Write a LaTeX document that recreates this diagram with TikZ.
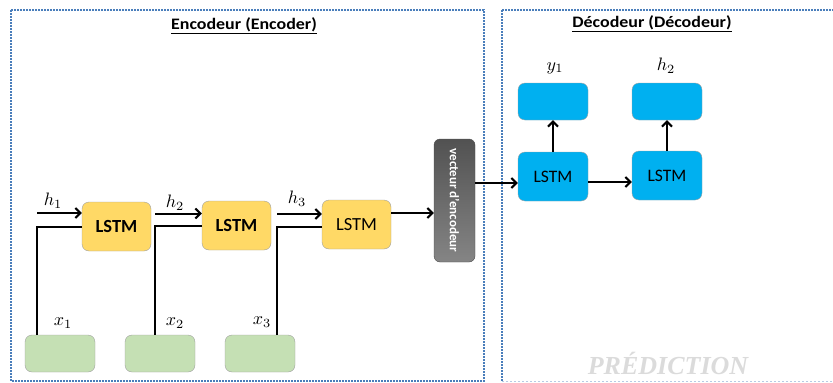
\documentclass[tikz,border=0pt]{standalone}
\usepackage{fontspec}
\setmainfont{Carlito}
\newfontfamily\wmfont{Liberation Serif}
\usetikzlibrary{arrows.meta,calc}
\definecolor{encyel}{HTML}{FFD966}
\definecolor{ingreen}{HTML}{C5E0B4}
\definecolor{decblue}{HTML}{00B0F0}
\definecolor{framebl}{HTML}{4A7EBB}
\definecolor{bordgr}{HTML}{A0A0A0}
\newcommand{\mlab}[1]{\scalebox{1.8}{$#1$}}
\begin{document}
\begin{tikzpicture}[x=1pt,y=-1pt,
  frame/.style={draw=framebl,line width=1.6pt,dash pattern=on 1.6pt off 1.4pt},
  encbox/.style={draw=bordgr,fill=encyel,rounded corners=7pt,minimum width=69pt,minimum height=49pt,inner sep=0pt,font=\fontsize{18.5}{21}\selectfont},
  inbox/.style={draw=bordgr,fill=ingreen,rounded corners=7pt,minimum width=70pt,minimum height=37pt,inner sep=0pt},
  decbox/.style={draw=bordgr,fill=decblue,rounded corners=7pt,minimum width=70pt,minimum height=49pt,inner sep=0pt,font=\fontsize{17.5}{20}\selectfont},
  outbox/.style={draw=bordgr,fill=decblue,rounded corners=7pt,minimum width=70pt,minimum height=37pt,inner sep=0pt},
  wire/.style={draw=black,line width=2pt},
  arr/.style={wire,-{Straight Barb[length=5pt,width=10pt,line width=2pt]}},
  lab/.style={inner sep=0pt},
  ttl/.style={font=\fontsize{16}{19}\selectfont\bfseries,inner sep=0pt}
]
\useasboundingbox (0,0) rectangle (833,383);
\begin{scope}
\clip (0,0) rectangle (833,383);
\draw[frame] (11,10) rectangle (484,381);
\draw[frame] (502,10) -- (840,10);
\draw[frame] (502,10) -- (502,381);
\draw[draw=framebl!40,line width=0.8pt,dash pattern=on 2pt off 2pt] (502,381) -- (840,381);
\end{scope}

\node[ttl] (t1) at (244,26) {\scalebox{1.12}[1]{\underline{Encodeur (Encoder)}}};
\node[ttl] (t2) at (652,24) {\scalebox{1.12}[1]{\underline{Décodeur (Décodeur)}}};

% encoder
\node[encbox] (e1) at (116.5,226.5) {\bfseries LSTM};
\node[encbox] (e2) at (236.5,225.5) {\bfseries LSTM};
\node[encbox] (e3) at (356.5,224.5) {LSTM};

\node[inbox] (x1) at (60,353.5) {};
\node[inbox] (x2) at (160,353.5) {};
\node[inbox] (x3) at (260,353.5) {};

\node[lab] (lx1) at (63,323) {\mlab{x_1}};
\node[lab] (lx2) at (175,323) {\mlab{x_2}};
\node[lab] (lx3) at (262,322) {\mlab{x_3}};

\node[lab] (lh1) at (53,201) {\mlab{h_1}};
\node[lab] (lh2) at (175,203) {\mlab{h_2}};
\node[lab] (lh3) at (297,199) {\mlab{h_3}};

\coordinate (h1s) at (37,213);
\coordinate (h2s) at (155,213.5);
\coordinate (h3s) at (277,214);
\draw[arr] (h1s) -- (h1s -| e1.west);
\draw[arr] (h2s) -- (h2s -| e2.west);
\draw[arr] (h3s) -- (h3s -| e3.west);

\coordinate (c1) at (37,227);
\coordinate (c2) at (155,226);
\coordinate (c3) at (277,226.5);
\draw[wire] (x1.north -| c1) |- (c1 -| e1.west);
\draw[wire] (x2.north -| c2) |- (c2 -| e2.west);
\draw[wire] (x3.north -| c3) |- (c3 -| e3.west);

% encoder vector
\node[draw=black!70,top color=black!68,bottom color=black!48,rounded corners=6pt,minimum width=41pt,minimum height=123pt,inner sep=0pt] (vec) at (454.5,200.5) {};
\node[rotate=-90,text=white,font=\fontsize{13}{15}\selectfont\bfseries,inner sep=0pt] (vect) at (vec.center) {vecteur d'encodeur};

\coordinate (v1) at (391,213);
\draw[arr] (e3.east |- v1) -- (vec.west |- v1);

% decoder
\node[decbox] (d1) at (553,176.5) {LSTM};
\node[decbox] (d2) at (667,175.5) {LSTM};
\node[outbox] (o1) at (553,101.5) {};
\node[outbox] (o2) at (667,101.5) {};
\node[lab] (ly1) at (555,68) {\mlab{y_1}};
\node[lab] (lh22) at (666,66) {\mlab{h_2}};

\coordinate (v2) at (475,183);
\draw[arr] (vec.east |- v2) -- (d1.west |- v2);
\coordinate (v3) at (588,182);
\draw[arr] (d1.east |- v3) -- (d2.west |- v3);
\draw[arr] (d1.north) -- (o1.south);
\draw[arr] (d2.north) -- (o2.south);

\node[font=\wmfont\fontsize{26}{30}\selectfont\bfseries\itshape,text=black!14,draw=none,inner sep=0pt] (pred) at (668,363) {PRÉDICTION};
\end{tikzpicture}
\end{document}
